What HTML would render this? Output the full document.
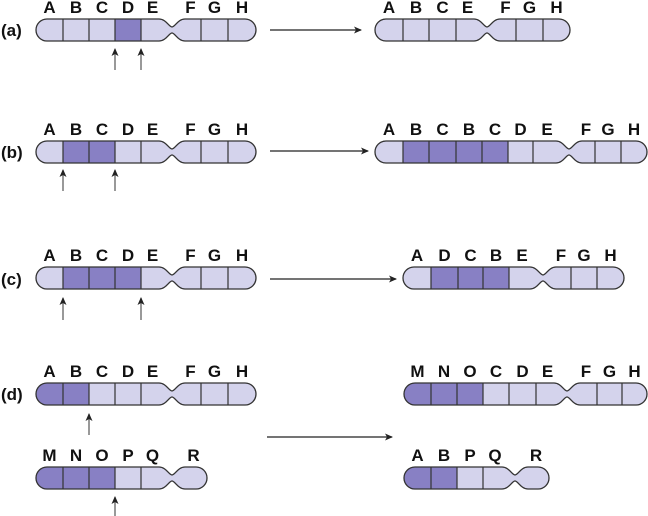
<!DOCTYPE html>
<html><head><meta charset="utf-8"><style>
html,body{margin:0;padding:0;background:#fff;}
svg{display:block;font-family:"Liberation Sans",Arial,sans-serif;font-weight:bold;}
</style></head><body>
<svg id="s" width="648" height="516" viewBox="0 0 648 516" xmlns="http://www.w3.org/2000/svg">
<defs>
<marker id="ah" markerWidth="8" markerHeight="8" refX="7" refY="4" orient="auto" markerUnits="userSpaceOnUse">
<path d="M0,0.5 L8,4 L0,7.5 L2,4 Z" fill="#222"/></marker>
</defs>
<g font-size="17" fill="#111">
<text x="1" y="36">(a)</text>
<text x="1" y="158">(b)</text>
<text x="1" y="285">(c)</text>
<text x="1" y="400">(d)</text>
</g>
<g id="g"></g>
</svg>
<script>
var NS="http://www.w3.org/2000/svg",G=document.getElementById('g'),cid=0;
function el(t,a,p){var e=document.createElementNS(NS,t);for(var k in a)e.setAttribute(k,a[k]);(p||G).appendChild(e);return e;}
var L="#d4d3ec",D="#8880c4";
function chr(x0,y,segs,pin){
  var h=22,r=11,d=8,pw=13,x=x0,bounds=[x0];
  segs.forEach(function(s){x+=s[1];bounds.push(x);});
  var x1=x,px=bounds[pin+1];
  var p="M"+(x0+r)+","+y+" L"+(px-pw)+","+y+" C"+(px-6)+","+y+" "+(px-3)+","+(y+d)+" "+px+","+(y+d)+
  " C"+(px+3)+","+(y+d)+" "+(px+6)+","+y+" "+(px+pw)+","+y+" L"+(x1-r)+","+y+" A"+r+","+r+" 0 0 1 "+(x1-r)+","+(y+h)+
  " L"+(px+pw)+","+(y+h)+" C"+(px+6)+","+(y+h)+" "+(px+3)+","+(y+h-d)+" "+px+","+(y+h-d)+
  " C"+(px-3)+","+(y+h-d)+" "+(px-6)+","+(y+h)+" "+(px-pw)+","+(y+h)+" L"+(x0+r)+","+(y+h)+" A"+r+","+r+" 0 0 1 "+(x0+r)+","+y+" Z";
  var id="c"+(cid++);
  var cp=el('clipPath',{id:id});el('path',{d:p},cp);
  var g=el('g',{'clip-path':'url(#'+id+')'});
  segs.forEach(function(s,i){
    el('rect',{x:bounds[i],y:y-1,width:s[1]+0.5,height:h+2,fill:s[2]?D:L},g);
    if(i>0&&i!=pin+1)el('line',{x1:bounds[i],y1:y,x2:bounds[i],y2:y+h,stroke:'#333','stroke-width':1.2},g);
    var cx=bounds[i]+s[1]/2;
    if(i==pin)cx-=4; if(i==pin+1)cx+=4;
    el('text',{x:cx,y:y-6,'text-anchor':'middle','font-size':17,fill:'#111'}).textContent=s[0];
  });
  el('path',{d:p,fill:'none',stroke:'#333','stroke-width':1.3});
}
function harrow(x1,x2,y){el('line',{x1:x1,y1:y,x2:x2,y2:y,stroke:'#222','stroke-width':1.2,'marker-end':'url(#ah)'});}
function up(x,y1,y2){el('line',{x1:x,y1:y2,x2:x,y2:y1+1,stroke:'#555','stroke-width':1.2,'marker-end':'url(#ah)'});}
function mk(str,ws,dk){return str.split('').map(function(c,i){return [c,ws[i],dk[i]==1];});}
chr(36,19,mk("ABCDEFGH",[27,26,26,26,31,29,27,28],[0,0,0,1,0,0,0,0]),4);
chr(375,19,mk("ABCEFGH",[28,26,27,31,29,27,27],[0,0,0,0,0,0,0]),3);
harrow(270,361,30); up(115,48,70); up(141,48,70);
chr(36,141,mk("ABCDEFGH",[27,26,26,26,31,29,27,28],[0,1,1,0,0,0,0,0]),4);
chr(375,141,mk("ABCBCDEFGH",[28,26,27,26,26,25,36,26,26,26],[0,1,1,1,1,0,0,0,0,0]),6);
harrow(270,368,151); up(63,169,191); up(115,169,191);
chr(36,267,mk("ABCDEFGH",[27,26,26,26,31,29,27,28],[0,1,1,1,0,0,0,0]),4);
chr(403,267,mk("ADCBEFGH",[28,27,25,26,34,28,26,27],[0,1,1,1,0,0,0,0]),4);
harrow(270,396,279); up(63,297,320); up(141,297,320);
chr(36,383,mk("ABCDEFGH",[27,26,26,26,31,29,27,28],[1,1,0,0,0,0,0,0]),4);
chr(36,467,mk("MNOPQR",[27,26,26,26,31,35],[1,1,1,0,0,0]),4);
chr(404,383,mk("MNOCDEFGH",[27,26,26,26,27,31,30,25,25],[1,1,1,0,0,0,0,0,0]),5);
chr(404,467,mk("ABPQR",[27,26,26,32,34],[1,1,0,0,0]),3);
harrow(267,392,437); up(89,413,435); up(115,496,516);
</script>
</body></html>
